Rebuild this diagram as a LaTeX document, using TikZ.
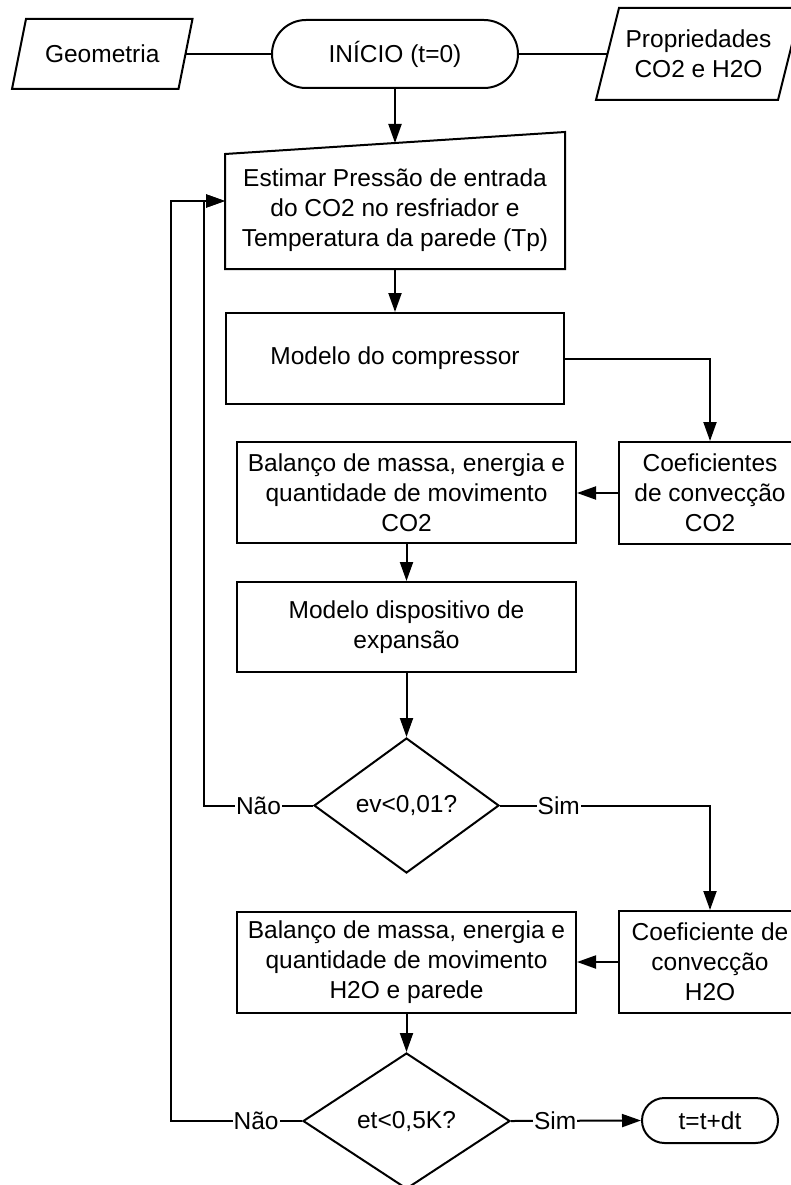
\documentclass[tikz,border=0pt]{standalone}
\usepackage{fontspec}
\setmainfont{Liberation Sans}
\usetikzlibrary{arrows.meta,shapes.geometric,calc}
\begin{document}
\begin{tikzpicture}[x=1pt,y=-1pt, line width=2pt,
  font=\fontsize{24.5pt}{30pt}\selectfont,
  base/.style={inner sep=0pt, align=center},
  box/.style={base, draw, rectangle},
  term/.style={base, draw, rectangle, rounded corners=#1},
  decision/.style={base, draw, diamond},
  arr/.style={-{Triangle[length=19pt,width=13pt]}},
  lbl/.style={fill=white, inner sep=1pt}]
\useasboundingbox (0,0) rectangle (791,1185);
\fill[white] (0,0) rectangle (791,1185);

% top row
\node[base, minimum width=164.5pt, minimum height=68pt] (geo) at (102.25,54) {Geometria};
\draw ([xshift=-7pt]geo.south west) -- ([xshift=-7pt]geo.south east) -- ([xshift=7pt]geo.north east) -- ([xshift=7pt]geo.north west) -- cycle;
\node[term=34pt, minimum width=246pt, minimum height=68pt] (ini) at (395,54) {INÍCIO (t=0)};
\node[base, minimum width=180pt, minimum height=90pt] (prop) at (698.5,54) {Propriedades\\CO2 e H2O};
\draw ([xshift=-11.5pt]prop.south west) -- ([xshift=-11.5pt]prop.south east) -- ([xshift=11.5pt]prop.north east) -- ([xshift=11.5pt]prop.north west) -- cycle;

% manual input
\node[base, minimum width=338pt, minimum height=116pt] (est) at (395,210) {Estimar Pressão de entrada\\do CO2 no resfriador e\\Temperatura da parede (Tp)};
\draw (est.south west) -- (est.south east) -- ([yshift=19pt]est.north east) -- ([yshift=-3pt]est.north west) -- cycle;
\coordinate (estin) at ([yshift=8pt]est.north);
\coordinate (estloop) at ([yshift=9pt]est.west);

\node[box, minimum width=338pt, minimum height=91pt] (comp) at (395,358.5) {Modelo do compressor};
\node[box, minimum width=182pt, minimum height=102pt] (coef1) at (710,493) {Coeficientes\\de convecção\\CO2};
\node[box, minimum width=339pt, minimum height=101pt] (bal1) at (406.5,492.5) {Balanço de massa, energia e\\quantidade de movimento\\CO2};
\node[box, minimum width=339pt, minimum height=90pt] (disp) at (406.5,627) {Modelo dispositivo de\\expansão};
\node[decision, minimum width=185pt, minimum height=135pt] (d1) at (406.5,805.5) {ev<0,01?};
\node[box, minimum width=182pt, minimum height=102pt] (coef2) at (710,962) {Coeficiente de\\convecção\\H2O};
\node[box, minimum width=339pt, minimum height=101pt] (bal2) at (406.5,962.5) {Balanço de massa, energia e\\quantidade de movimento\\H2O e parede};
\node[decision, minimum width=207pt, minimum height=136pt] (d2) at (406.5,1121) {et<0,5K?};
\node[term=22.5pt, minimum width=136pt, minimum height=45pt] (fim) at (710,1120.5) {t=t+dt};

\coordinate (c1) at (204,805.5);
\coordinate (c2) at (171,1121);

% connectors
\draw (geo.east) -- (ini.west);
\draw (ini.east) -- (prop.west);
\draw[arr] (ini.south) -- (estin);
\draw[arr] (est.south) -- (comp.north);
\draw[arr] (comp.east) -| (coef1.north);
\draw[arr] (coef1.west) -- (coef1.west -| bal1.east);
\draw[arr] (bal1.south) -- (disp.north);
\draw[arr] (disp.south) -- (d1.north);
\draw[arr] (d1.west) -- node[lbl]{Não} (c1) |- (estloop);
\draw[arr] (d1.east) -- node[lbl,pos=0.28]{Sim} (d1.east -| coef2.north) -- (coef2.north);
\draw[arr] (coef2.west) -- (coef2.west -| bal2.east);
\draw[arr] (bal2.south) -- (d2.north);
\draw[arr] (d2.west) -- node[lbl,pos=0.35]{Não} (c2) |- (estloop);
\draw[arr] (d2.east) -- node[lbl,pos=0.34]{Sim} (fim.west);
\end{tikzpicture}
\end{document}
